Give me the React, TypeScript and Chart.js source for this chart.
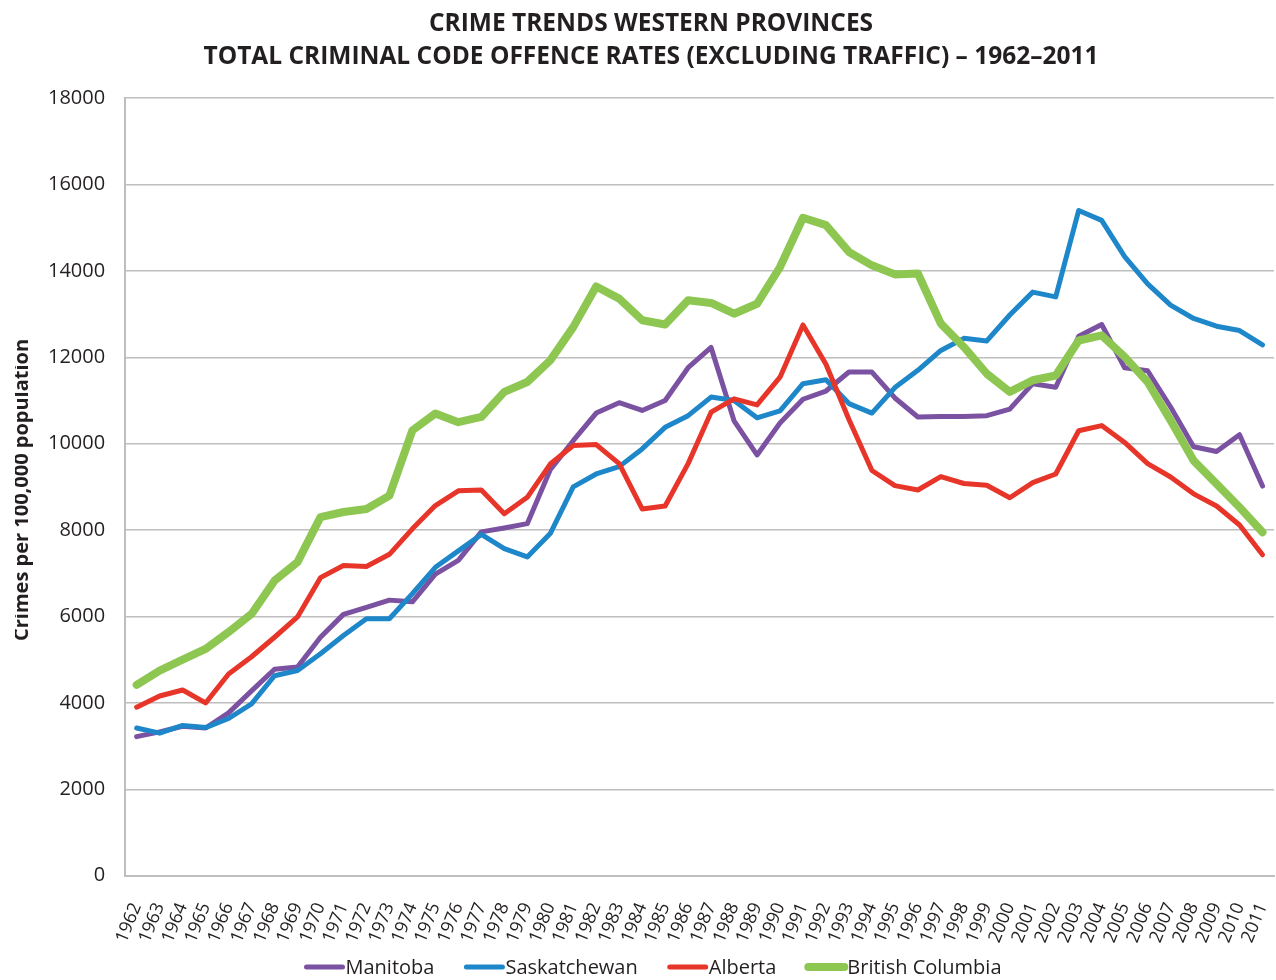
import React, { useEffect, useRef } from "react";
import { Chart, registerables } from "chart.js";

Chart.register(...registerables);

const titleLines = [
  "CRIME TRENDS WESTERN PROVINCES",
  "TOTAL CRIMINAL CODE OFFENCE RATES (EXCLUDING TRAFFIC) – 1962–2011",
];
const yAxisTitle = "Crimes per 100,000 population";

const years = [
  "1962", "1963", "1964", "1965", "1966", "1967", "1968", "1969", "1970", "1971",
  "1972", "1973", "1974", "1975", "1976", "1977", "1978", "1979", "1980", "1981",
  "1982", "1983", "1984", "1985", "1986", "1987", "1988", "1989", "1990", "1991",
  "1992", "1993", "1994", "1995", "1996", "1997", "1998", "1999", "2000", "2001",
  "2002", "2003", "2004", "2005", "2006", "2007", "2008", "2009", "2010", "2011",
];

const manitoba = [
  3220, 3330, 3460, 3420, 3770, 4280, 4780, 4830, 5520, 6050,
  6210, 6380, 6340, 6980, 7300, 7960, 8050, 8150, 9400, 10070,
  10710, 10950, 10770, 11000, 11760, 12230, 10530, 9740, 10480, 11030,
  11220, 11660, 11660, 11060, 10620, 10630, 10630, 10650, 10800, 11390,
  11310, 12490, 12760, 11760, 11690, 10850, 9930, 9820, 10210, 9020,
];

const saskatchewan = [
  3420, 3300, 3480, 3430, 3640, 3980, 4630, 4750, 5140, 5560,
  5950, 5950, 6530, 7140, 7520, 7900, 7570, 7380, 7920, 9000,
  9300, 9470, 9880, 10380, 10650, 11080, 11000, 10600, 10760, 11390,
  11480, 10930, 10710, 11300, 11700, 12160, 12440, 12380, 12980, 13510,
  13400, 15400, 15170, 14330, 13700, 13210, 12900, 12720, 12620, 12290,
];

const alberta = [
  3900, 4160, 4300, 4000, 4670, 5070, 5520, 5990, 6900, 7180,
  7160, 7440, 8030, 8570, 8910, 8930, 8380, 8760, 9530, 9960,
  9980, 9540, 8490, 8560, 9540, 10730, 11040, 10900, 11540, 12750,
  11840, 10560, 9380, 9030, 8930, 9240, 9080, 9040, 8750, 9100,
  9300, 10300, 10420, 10030, 9540, 9230, 8840, 8560, 8120, 7430,
];

const britishColumbia = [
  4420, 4750, 5000, 5250, 5640, 6060, 6830, 7260, 8300, 8420,
  8490, 8800, 10310, 10700, 10500, 10620, 11200, 11430, 11930, 12700,
  13640, 13360, 12860, 12760, 13320, 13260, 13010, 13240, 14090, 15230,
  15060, 14440, 14130, 13920, 13940, 12780, 12240, 11620, 11200, 11470,
  11580, 12390, 12510, 12010, 11430, 10540, 9610, 9070, 8530, 7950,
];

const seriesNames = ["Manitoba", "Saskatchewan", "Alberta", "British Columbia"];
const seriesColors = ["#7B52A1", "#1E87C9", "#E8352A", "#8DC752"];
const seriesWidths = [5, 5, 5, 8];

const textColor = "#231F20";
const gridColor = "#BEBEBE";

const yTitlePlugin = {
  id: "yTitlePlugin",
  afterDraw(chart: any) {
    const { ctx, chartArea } = chart;
    ctx.save();
    ctx.beginPath();
    ctx.rect(15, 0, 200, chart.height);
    ctx.clip();
    ctx.translate(28, (chartArea.top + chartArea.bottom) / 2 + 3);
    ctx.rotate(-Math.PI / 2);
    ctx.font = 'bold 20px "Open Sans"';
    ctx.textAlign = "center";
    ctx.textBaseline = "alphabetic";
    ctx.fillStyle = textColor;
    ctx.fillText(yAxisTitle, 0, 0);
    ctx.restore();
  },
};

const legendPlugin = {
  id: "legendPlugin",
  afterDraw(chart: any) {
    const { ctx } = chart;
    ctx.save();
    ctx.font = '20px "Open Sans"';
    ctx.textBaseline = "middle";
    ctx.textAlign = "left";
    const lineW = 40;
    const gap = 1;
    const spacing = 30;
    const ds = chart.data.datasets;
    const widths = ds.map((d: any) => lineW + gap + ctx.measureText(d.label).width);
    const total = widths.reduce((a: number, b: number) => a + b, 0) + spacing * (ds.length - 1);
    let x = 653 - total / 2;
    const y = 967;
    ds.forEach((d: any, i: number) => {
      ctx.strokeStyle = d.borderColor;
      ctx.lineWidth = d.borderWidth;
      ctx.lineCap = "round";
      ctx.beginPath();
      ctx.moveTo(x + 2, y);
      ctx.lineTo(x + lineW - 2, y);
      ctx.stroke();
      ctx.fillStyle = textColor;
      ctx.fillText(d.label, x + lineW + gap, y + 1);
      x += widths[i] + spacing;
    });
    ctx.restore();
  },
};

export default function App() {
  const ref = useRef<HTMLCanvasElement>(null);

  useEffect(() => {
    let chart: Chart | null = null;
    let cancelled = false;
    const make = () => {
      if (cancelled || !ref.current) return;
      const dataLists = [manitoba, saskatchewan, alberta, britishColumbia];
      chart = new Chart(ref.current, {
        type: "line",
        data: {
          labels: years,
          datasets: dataLists.map((vals, i) => ({
            label: seriesNames[i],
            data: vals,
            borderColor: seriesColors[i],
            backgroundColor: seriesColors[i],
            borderWidth: seriesWidths[i],
            pointRadius: 0,
            pointHoverRadius: 0,
            tension: 0,
            fill: false,
            order: 3 - i,
            borderJoinStyle: "round" as const,
            borderCapStyle: "round" as const,
          })),
        },
        options: {
          responsive: false,
          animation: false,
          layout: { padding: { left: 28, right: 2, top: 0, bottom: 10 } },
          plugins: {
            legend: { display: false },
            tooltip: { enabled: false },
            title: {
              display: true,
              text: titleLines,
              color: textColor,
              font: { family: '"Open Sans"', weight: "bold", size: 24.5, lineHeight: 1.35 },
              padding: { top: 7, bottom: 25 },
            },
          },
          scales: {
            x: {
              offset: true,
              grid: { display: false, drawTicks: false },
              border: { display: true, color: gridColor, width: 2 },
              afterFit: (scale: any) => {
                scale.paddingLeft = 0;
                scale.paddingRight = 0;
              },
              ticks: {
                autoSkip: false,
                minRotation: 68,
                maxRotation: 68,
                padding: 24,
                color: textColor,
                font: { family: '"Open Sans"', size: 18 },
              },
            },
            y: {
              min: 0,
              max: 18000,
              grid: { color: gridColor, lineWidth: 1.5, drawTicks: false },
              border: { display: true, color: gridColor, width: 2 },
              ticks: {
                stepSize: 2000,
                padding: 20,
                color: textColor,
                font: { family: '"Open Sans"', size: 20 },
                callback: (v: any) => String(v),
              },
            },
          },
        },
        plugins: [yTitlePlugin, legendPlugin],
      });
    };
    const fonts = (document as any).fonts;
    if (fonts && fonts.load) {
      Promise.all([
        fonts.load('20px "Open Sans"'),
        fonts.load('bold 20px "Open Sans"'),
      ]).then(make, make);
    } else {
      make();
    }
    return () => {
      cancelled = true;
      if (chart) chart.destroy();
    };
  }, []);

  return (
    <div style={{ position: "absolute", left: 0, top: 0, width: 1276, height: 980, background: "#fff" }}>
      <canvas ref={ref} width={1276} height={980} style={{ display: "block" }} />
    </div>
  );
}
